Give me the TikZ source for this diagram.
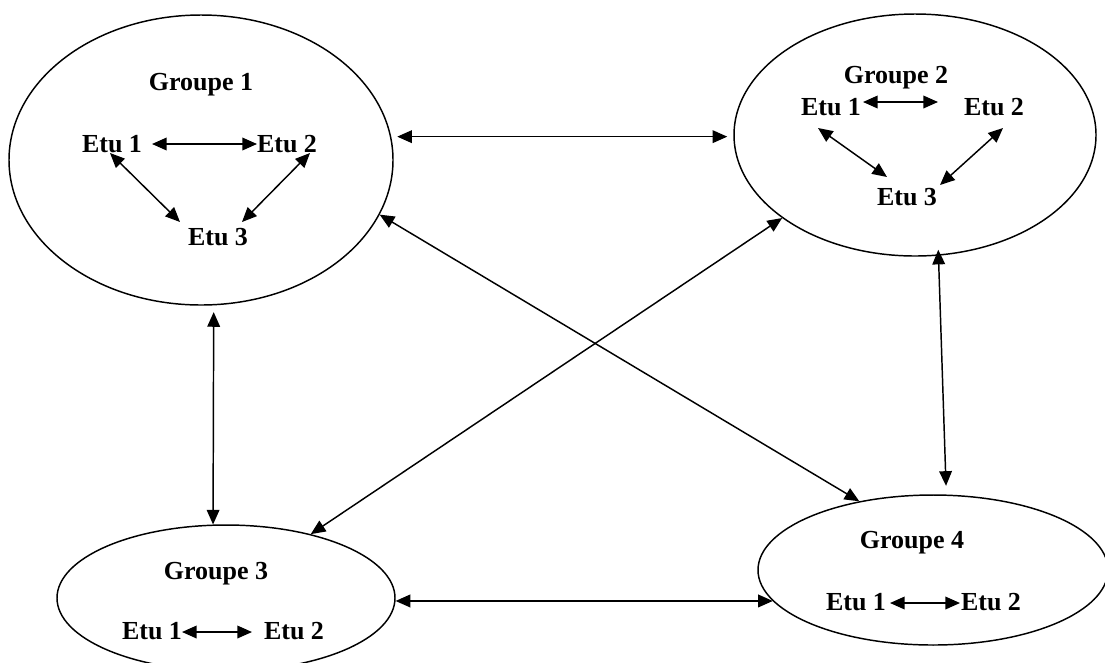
\documentclass[tikz,border=0pt]{standalone}
\usepackage{fontspec}
\setmainfont{Liberation Serif}
\usetikzlibrary{arrows.meta,shapes.geometric}

\begin{document}
\begin{tikzpicture}[
    x=0.75pt, y=-0.75pt,
    grp/.style 2 args={draw, ellipse, line width=1.1pt, inner sep=0pt, minimum width=#1, minimum height=#2},
    titre/.style={anchor=base, inner sep=0pt, font=\fontsize{19.5}{23}\selectfont\bfseries},
    etu/.style={anchor=base, inner sep=0pt, font=\fontsize{19.5}{23}\selectfont\bfseries},
    link/.style={{Triangle[length=11pt,width=9.5pt]}-{Triangle[length=11pt,width=9.5pt]}, line width=1.1pt},
]
\useasboundingbox (0,0) rectangle (1105,662);
\clip (0,0) rectangle (1105,662);
\node[grp={288pt}{217.5pt}] (g1) at (201,160) {};
\node[grp={271.5pt}{181.5pt}] (g2) at (915,135) {};
\node[grp={253.5pt}{109.5pt}] (g3) at (226,598) {};
\node[grp={262.5pt}{112.5pt}] (g4) at (933,570) {};
\node[titre] (t1) at (201,90) {Groupe 1};
\node[etu] (e11) at (112,152) {Etu 1};
\node[etu] (e12) at (287,152) {Etu 2};
\node[etu] (e13) at (218,245) {Etu 3};
\node[titre] (t2) at (896,83) {Groupe 2};
\node[etu] (e21) at (831,115) {Etu 1};
\node[etu] (e22) at (994,115) {Etu 2};
\node[etu] (e23) at (907,205) {Etu 3};
\node[titre] (t3) at (216,579) {Groupe 3};
\node[etu] (e31) at (152,639) {Etu 1};
\node[etu] (e32) at (294,639) {Etu 2};
\node[titre] (t4) at (912,548) {Groupe 4};
\node[etu] (e41) at (856,610) {Etu 1};
\node[etu] (e42) at (991,610) {Etu 2};
\draw[link] ([shift={(40,-8)}]e11.base) -- ([shift={(-30,-8)}]e12.base);
\draw[link] ([shift={(-2,1)}]e11.base) -- ([shift={(-38,-23)}]e13.base);
\draw[link] ([shift={(23,1)}]e12.base) -- ([shift={(24,-23)}]e13.base);
\draw[link] ([shift={(32,-13)}]e21.base) -- ([shift={(-56,-13)}]e22.base);
\draw[link] ([shift={(-13,13)}]e21.base) -- ([shift={(-20,-28)}]e23.base);
\draw[link] ([shift={(9,13)}]e22.base) -- ([shift={(33,-20)}]e23.base);
\draw[link] ([shift={(30,-7)}]e31.base) -- ([shift={(-42,-7)}]e32.base);
\draw[link] ([shift={(34,-7)}]e41.base) -- ([shift={(-31,-7)}]e42.base);
\draw[link, shorten <=4.5pt, shorten >=4.5pt] (g1.7.5) -- (g1.7.5 -| g2.west);
\draw[link, shorten <=5pt] (g1.-85.3) -- (g3.100.1);
\draw[link, shorten <=-4.5pt, shorten >=6.5pt] (g2.-79.15) -- (g4.80.2);
\draw[link] (g1.-17.9) -- (g4.137);
\draw[link] (g2.212.6) -- (g3.37.1);
\draw[link] (g3.-1) -- (g3.-1 -| g4.191);
\end{tikzpicture}
\end{document}
